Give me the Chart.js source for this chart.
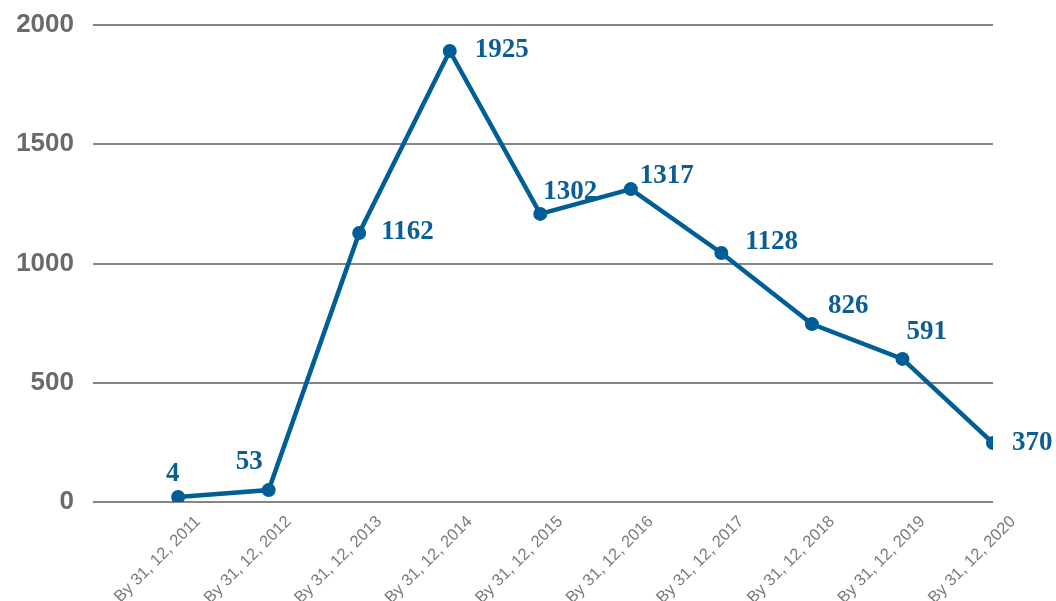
<!DOCTYPE html>
<html>
<head>
<meta charset="utf-8">
<script src="https://cdn.jsdelivr.net/npm/chart.js@4.4.1/dist/chart.umd.min.js"></script>
<style>
	html, body { margin: 0; padding: 0; background: #fff; }
	#wrap { width: 1056px; height: 601px; }
</style>
</head>
<body>
<div id="wrap"><canvas id="ChartCanvas" width="1056" height="601"></canvas></div>
<script>
// categories and values
var categories = ['By 31, 12, 2011', 'By 31, 12, 2012', 'By 31, 12, 2013', 'By 31, 12, 2014', 'By 31, 12, 2015',
	'By 31, 12, 2016', 'By 31, 12, 2017', 'By 31, 12, 2018', 'By 31, 12, 2019', 'By 31, 12, 2020'];
// where the points sit on the axis
var plotted = [21, 50, 1128, 1891, 1208, 1312, 1044, 746, 600, 247];
// the numbers printed beside the points
var labelValues = [4, 53, 1162, 1925, 1302, 1317, 1128, 826, 591, 370];
var yTicks = [0, 500, 1000, 1500, 2000];

// label placement beside each point (dx, dy from point centre)
var labelShift = [[-12, -23], [-33, -28], [22, -1], [25, -1], [3, -22], [9, -13], [24, -11], [16, -18], [4, -27], [19, 0]];

var lineColor = '#005e96';

var pointLabels = {
	id: 'pointLabels',
	afterDatasetsDraw: function(chart) {
		var ctx = chart.ctx;
		var meta = chart.getDatasetMeta(0);
		ctx.save();
		ctx.font = 'bold 27px "Liberation Serif", "Times New Roman", serif';
		ctx.fillStyle = '#0b5e94';
		ctx.textAlign = 'left';
		ctx.textBaseline = 'middle';
		meta.data.forEach(function(pt, i) {
			ctx.fillText(String(labelValues[i]), pt.x + labelShift[i][0], pt.y + labelShift[i][1]);
		});
		ctx.restore();
	}
};

var ctx = document.getElementById('ChartCanvas').getContext('2d');
var chart = new Chart(ctx, {
	type: 'line',
	data: {
		datasets: [{
			data: plotted.map(function(v, i) { return { x: i + 1, y: v }; }),
			borderColor: lineColor,
			backgroundColor: lineColor,
			borderWidth: 4.5,
			pointRadius: 7,
			pointHoverRadius: 7,
			pointBackgroundColor: lineColor,
			pointBorderWidth: 0,
			tension: 0
		}]
	},
	plugins: [pointLabels],
	options: {
		responsive: false,
		animation: false,
		layout: { padding: { top: 25, right: 63, left: 0, bottom: 0 } },
		plugins: {
			legend: { display: false },
			tooltip: { enabled: false }
		},
		scales: {
			x: {
				type: 'linear',
				min: 0.06,
				max: 10,
				afterBuildTicks: function(scale) {
					scale.ticks = categories.map(function(c, i) { return { value: i + 1 }; });
				},
				afterFit: function(scale) { scale.height = 99; },
				grid: { display: false },
				border: { display: false },
				ticks: {
					autoSkip: false,
					minRotation: 45,
					maxRotation: 45,
					labelOffset: 20,
					padding: 2,
					color: '#7a7a7a',
					font: { family: '"Liberation Sans", Arial, sans-serif', size: 16.5 },
					callback: function(v) { return categories[Math.round(v) - 1] || ''; }
				}
			},
			y: {
				min: 0,
				max: 2000,
				afterBuildTicks: function(scale) {
					scale.ticks = yTicks.map(function(v) { return { value: v }; });
				},
				afterFit: function(scale) {
					scale.width = 93;
					scale.paddingTop = 0;
					scale.paddingBottom = 0;
				},
				border: { display: false },
				grid: { color: '#858585', lineWidth: 2, drawTicks: false },
				ticks: {
					padding: 19,
					color: '#6a6a6a',
					font: { family: '"Liberation Sans", Arial, sans-serif', size: 26, weight: 'bold' },
					callback: function(v) { return String(v); }
				}
			}
		}
	}
});
</script>
</body>
</html>
